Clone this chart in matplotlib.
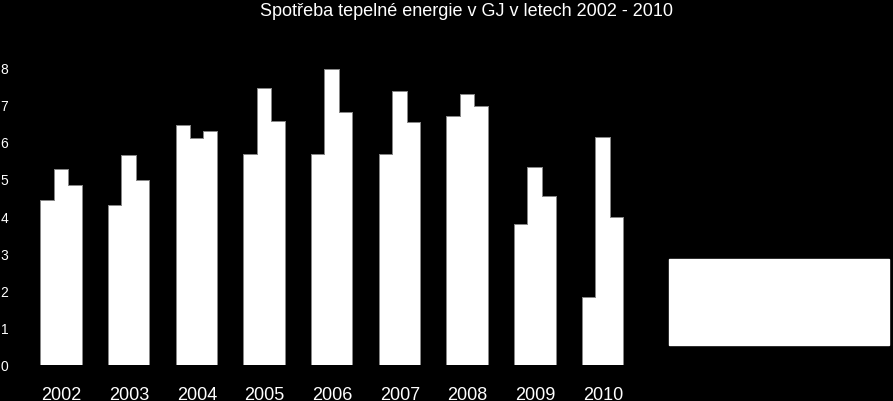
import matplotlib.pyplot as plt
import numpy as np

plt.rcParams['font.family'] = ['Liberation Sans', 'DejaVu Sans']

years = ['2002', '2003', '2004', '2005', '2006', '2007', '2008', '2009', '2010']
series_names = ['Řada1', 'Řada2', 'Řada3']
s1 = [4.40, 4.26, 6.43, 5.63, 5.64, 5.64, 6.66, 3.75, 1.81]
s2 = [5.24, 5.62, 6.08, 7.42, 7.92, 7.34, 7.24, 5.28, 6.09]
s3 = [4.82, 4.94, 6.25, 6.53, 6.78, 6.49, 6.94, 4.52, 3.95]

fig = plt.figure(figsize=(8.93, 4.02), dpi=100, facecolor='black')
ax = fig.add_axes([0.031, 0.0896, 0.682, 0.741])
ax.set_facecolor('black')

x = np.arange(len(years))
w = 0.2
# outlined bars, then plain white fill on top so the inner seams disappear
for i, (vals, name) in enumerate(zip([s1, s2, s3], series_names)):
    ax.bar(x + (i - 1) * w, vals, width=w, color='white', edgecolor='#8a8a8a',
           linewidth=1.4, label=name)
for i, vals in enumerate([s1, s2, s3]):
    ax.bar(x + (i - 1) * w, vals, width=w, color='white', edgecolor='none',
           linewidth=0)

ax.set_xlim(-0.5, len(years) - 0.5)
ax.set_ylim(0, 8)
ax.set_yticks(range(0, 9))
ax.set_yticklabels([str(v) for v in range(0, 9)], color='white', fontsize=10)
ax.set_xticks(x)
ax.set_xticklabels(years, color='white', fontsize=13)
ax.tick_params(axis='both', length=0)
ax.tick_params(axis='y', pad=14)
ax.tick_params(axis='x', pad=15)
for sp in ax.spines.values():
    sp.set_visible(False)

fig.text(0.522, 0.972, 'Spotřeba tepelné energie v GJ v letech 2002 - 2010',
         color='white', fontsize=13, ha='center', va='center')

handles, labels = ax.get_legend_handles_labels()
leg = fig.legend(handles[:3], labels[:3], loc='center',
                 bbox_to_anchor=(0.741, 0.137, 0.262, 0.219),
                 mode='expand', fancybox=False, framealpha=1, fontsize=10,
                 borderpad=0.8, labelspacing=0.8, handlelength=1.0)
leg.get_frame().set_facecolor('white')
leg.get_frame().set_edgecolor('white')
for t in leg.get_texts():
    t.set_color('white')
for h in leg.legend_handles:
    h.set_edgecolor('white')

fig.savefig('out.png', dpi=100, facecolor='black')
